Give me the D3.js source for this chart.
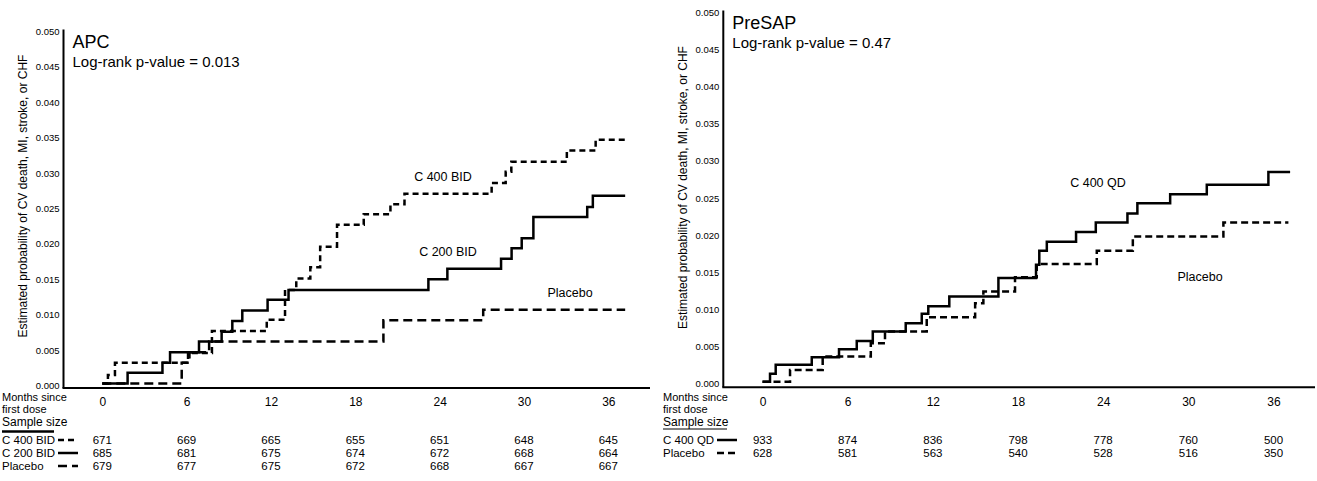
<!DOCTYPE html>
<html>
<head>
<meta charset="utf-8">
<script src="https://cdn.jsdelivr.net/npm/d3@7"></script>
<style>
  body { margin: 0; background: #fff; }
  svg { display: block; font-family: "Liberation Sans", Arial, Helvetica, sans-serif; }
</style>
</head>
<body>
<div id="chart"></div>
<script>
// months shown under the x axis
const months = [0, 6, 12, 18, 24, 30, 36];
const probTicks = [0, 0.005, 0.01, 0.015, 0.02, 0.025, 0.03, 0.035, 0.04, 0.045, 0.05];

// APC trial: step points [month, estimated probability]
const apcC400 = [[0, 0.0003], [0.4, 0.0015], [0.9, 0.0032], [6.1, 0.0046], [7.8, 0.0077], [11.7, 0.0093],
  [13.0, 0.0135], [13.8, 0.0151], [14.8, 0.0167], [15.5, 0.0196], [16.7, 0.0227], [18.6, 0.0242],
  [20.5, 0.0256], [21.5, 0.0271], [27.7, 0.0286], [28.7, 0.0302], [29.1, 0.0316], [33.05, 0.0332],
  [35.1, 0.0347], [37.2, 0.0347]];
const apcC200 = [[0, 0.0003], [1.8, 0.0018], [4.28, 0.0032], [4.82, 0.0047], [6.88, 0.0062], [8.49, 0.0076],
  [9.25, 0.0091], [9.96, 0.0106], [11.76, 0.0121], [13.25, 0.0135], [23.2, 0.015], [24.55, 0.0165],
  [28.37, 0.0179], [29.12, 0.0194], [29.84, 0.0208], [30.67, 0.0238], [34.5, 0.0252], [34.9, 0.0268],
  [37.2, 0.0268]];
const apcPlacebo = [[0, 0.0003], [5.65, 0.0032], [6.2, 0.0047], [7.6, 0.0062], [20.0, 0.0092],
  [27.1, 0.0107], [37.2, 0.0107]];

// PreSAP trial
const presapC400 = [[0, 0.0002], [0.53, 0.0013], [0.93, 0.0025], [3.47, 0.0035], [5.39, 0.0046],
  [6.64, 0.0057], [7.77, 0.007], [10.09, 0.0081], [11.22, 0.0094], [11.68, 0.0104], [13.16, 0.0117],
  [16.62, 0.0142], [19.27, 0.016], [19.5, 0.0179], [20.03, 0.0191], [22.09, 0.0204], [23.48, 0.0217],
  [25.71, 0.0229], [26.41, 0.0243], [28.72, 0.0255], [31.3, 0.0268], [35.64, 0.0285], [37.17, 0.0285]];
const presapPlacebo = [[0, 0.0002], [1.94, 0.0018], [4.24, 0.0036], [7.63, 0.0054], [8.63, 0.007],
  [11.57, 0.0089], [14.98, 0.0108], [15.56, 0.0124], [17.79, 0.0143], [19.32, 0.0161], [23.55, 0.0179],
  [26.09, 0.0198], [32.47, 0.0217], [37.05, 0.0217]];

// sample size tables
const apcN400 = [671, 669, 665, 655, 651, 648, 645];
const apcN200 = [685, 681, 675, 674, 672, 668, 664];
const apcNPlacebo = [679, 677, 675, 672, 668, 667, 667];
const presapN400 = [933, 874, 836, 798, 778, 760, 500];
const presapNPlacebo = [628, 581, 563, 540, 528, 516, 350];

const yTitle = "Estimated probability of CV death, MI, stroke, or CHF";

const svg = d3.select("#chart").append("svg")
  .attr("width", 1317)
  .attr("height", 481);

function drawPanel(cfg) {
  const g = svg.append("g");

  const x = d3.scaleLinear().domain([0, 36]).range(cfg.xRange);
  const y = d3.scaleLinear().domain([0, 0.05]).range(cfg.yRange);

  // axis lines
  g.append("line")
    .attr("x1", cfg.axisX).attr("x2", cfg.axisX)
    .attr("y1", cfg.top).attr("y2", cfg.bottom)
    .attr("stroke", "#000").attr("stroke-width", 2);
  g.append("line")
    .attr("x1", cfg.axisX - 1).attr("x2", cfg.right)
    .attr("y1", cfg.bottom).attr("y2", cfg.bottom)
    .attr("stroke", "#000").attr("stroke-width", 2);

  // y tick labels
  const yAx = g.append("g")
    .attr("transform", `translate(${cfg.axisX},0)`)
    .call(d3.axisLeft(y).tickValues(probTicks).tickSize(0).tickPadding(4).tickFormat(d3.format(".3f")));
  yAx.select(".domain").remove();
  yAx.selectAll("text").style("font-size", "9.5px").attr("fill", "#000");

  // y title
  g.append("text")
    .attr("transform", `translate(${cfg.yTitleX},${cfg.yTitleY}) rotate(-90)`)
    .attr("text-anchor", "middle")
    .style("font-size", "12px")
    .text(yTitle);

  // panel title
  g.append("text").attr("x", cfg.axisX + 9).attr("y", cfg.titleY)
    .style("font-size", "18px").text(cfg.title);
  g.append("text").attr("x", cfg.axisX + 9).attr("y", cfg.titleY + 19)
    .style("font-size", "15px").text(cfg.pText);

  // curves
  const line = d3.line()
    .x(d => x(d[0]))
    .y(d => y(d[1]))
    .curve(d3.curveStepAfter);

  cfg.series.forEach(s => {
    g.append("path")
      .datum(s.values)
      .attr("d", line)
      .attr("fill", "none")
      .attr("stroke", "#000")
      .attr("stroke-width", 2.5)
      .attr("stroke-dasharray", s.dash);
    g.append("text")
      .attr("x", s.labelX).attr("y", s.labelY)
      .attr("text-anchor", "middle")
      .attr("dy", "0.35em")
      .style("font-size", "12.5px")
      .text(s.name);
  });

  // bottom table
  const t = g.append("g").style("font-size", "11px");
  t.append("text").attr("x", cfg.tableX).attr("y", 400.5).text("Months since");
  t.append("text").attr("x", cfg.tableX).attr("y", 412.8).text("first dose");

  const xAx = t.append("g")
    .attr("transform", "translate(0,397)")
    .call(d3.axisBottom(x).tickValues(months).tickSize(0).tickPadding(0).tickFormat(d3.format("d")));
  xAx.select(".domain").remove();
  xAx.selectAll("text").style("font-size", "12px").attr("fill", "#000").attr("dy", "0.75em");

  t.append("text").attr("x", cfg.tableX).attr("y", 426).style("font-size", "12px").text("Sample size");
  t.append("line")
    .attr("x1", cfg.tableX).attr("x2", cfg.tableX + cfg.underlineW)
    .attr("y1", cfg.underlineY).attr("y2", cfg.underlineY)
    .attr("stroke", "#000").attr("stroke-width", cfg.underlineStroke);

  cfg.series.forEach((s, i) => {
    const rowY = 444 + i * 13;
    t.append("text").attr("x", cfg.tableX).attr("y", rowY)
      .style("font-size", "11.5px").text(s.name);
    t.append("line")
      .attr("x1", cfg.tableX + cfg.sampleX).attr("x2", cfg.tableX + cfg.sampleX + 20)
      .attr("y1", rowY - 4).attr("y2", rowY - 4)
      .attr("stroke", "#000").attr("stroke-width", 2.5)
      .attr("stroke-dasharray", s.dash);
    t.selectAll(null)
      .data(s.n)
      .enter()
      .append("text")
      .attr("x", (d, j) => x(months[j]))
      .attr("y", rowY)
      .attr("text-anchor", "middle")
      .style("font-size", "11.5px")
      .text(d => d);
  });
}

drawPanel({
  title: "APC",
  pText: "Log-rank p-value = 0.013",
  axisX: 63.5, top: 29.5, bottom: 388, right: 650,
  xRange: [102.3, 608.3],
  yRange: [385.5, 31.5],
  titleY: 47.5,
  yTitleX: 27, yTitleY: 196,
  tableX: 2, underlineW: 52, underlineY: 431.5, underlineStroke: 2.5, sampleX: 56,
  series: [
    { name: "C 400 BID", values: apcC400, dash: "6,4", n: apcN400, labelX: 443, labelY: 177 },
    { name: "C 200 BID", values: apcC200, dash: null, n: apcN200, labelX: 448, labelY: 252 },
    { name: "Placebo", values: apcPlacebo, dash: "9,5", n: apcNPlacebo, labelX: 570, labelY: 293 }
  ]
});

drawPanel({
  title: "PreSAP",
  pText: "Log-rank p-value = 0.47",
  axisX: 723.3, top: 10.5, bottom: 387.3, right: 1315,
  xRange: [762.5, 1273.5],
  yRange: [383.3, 12.7],
  titleY: 29.3,
  yTitleX: 687, yTitleY: 187.5,
  tableX: 663, underlineW: 64, underlineY: 429, underlineStroke: 1, sampleX: 54,
  series: [
    { name: "C 400 QD", values: presapC400, dash: null, n: presapN400, labelX: 1098, labelY: 183 },
    { name: "Placebo", values: presapPlacebo, dash: "7,4", n: presapNPlacebo, labelX: 1200, labelY: 277 }
  ]
});
</script>
</body>
</html>
